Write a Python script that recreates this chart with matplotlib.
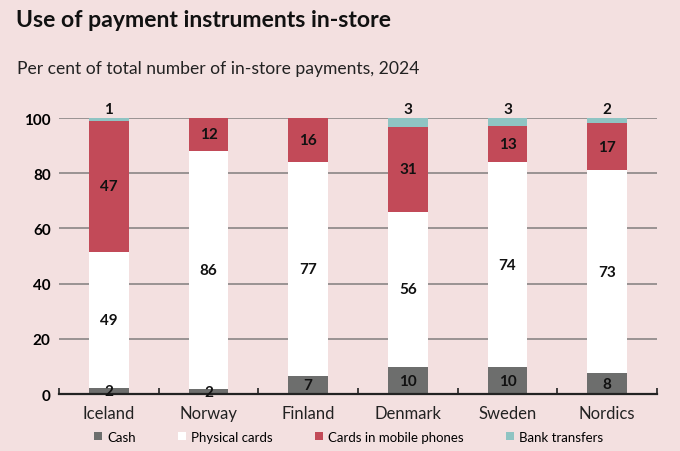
import matplotlib
matplotlib.use("Agg")
import matplotlib.pyplot as plt
import numpy as np

categories = ["Iceland", "Norway", "Finland", "Denmark", "Sweden", "Nordics"]
cash = [2.2, 1.8, 6.6, 9.7, 9.7, 7.6]
physical = [49.3, 86.4, 77.4, 56.4, 74.4, 73.4]
mobile = [47.4, 11.8, 16.0, 30.6, 13.1, 17.2]
bank = [1.1, 0.0, 0.0, 3.3, 2.8, 1.8]
series_names = ["Cash", "Physical cards", "Cards in mobile phones", "Bank transfers"]
yticks = [0, 20, 40, 60, 80, 100]

colors = ["#6d6e6d", "#ffffff", "#c24a58", "#8fc4c3"]
bg = "#f3e0e0"
FONT = "Lato"

fig = plt.figure(figsize=(6.8, 4.52), dpi=100, facecolor=bg)
ax = fig.add_axes([0.0868, 0.1261, 0.8794, 0.6106], facecolor=bg)

x = np.arange(len(categories))
series = [cash, physical, mobile, bank]
bottom = np.zeros(len(categories))
handles = []
for i, (vals, col, name) in enumerate(zip(series, colors, series_names)):
    vals = np.array(vals)
    h = ax.bar(x, vals, 0.4, bottom=bottom, color=col, label=name, zorder=3, linewidth=0)
    handles.append(h)
    for xi, v, b in zip(x, vals, bottom):
        if v <= 0:
            continue
        if i == 3:
            ax.text(xi, b + v + 0.8, f"{v:.0f}", ha="center", va="bottom", fontsize=11,
                    fontweight="bold", family=FONT, color="#111111", zorder=5, clip_on=False)
        else:
            ax.text(xi, b + v / 2, f"{v:.0f}", ha="center", va="center", fontsize=11,
                    fontweight="bold", family=FONT, color="#111111", zorder=5, clip_on=False)
    bottom = bottom + vals

ax.set_xlim(-0.5, len(categories) - 0.5)
ax.set_ylim(0, 100)
ax.set_yticks(yticks)
ax.set_yticklabels([str(t) for t in yticks], fontsize=11, fontweight="bold", family=FONT)
for t in yticks[1:]:
    ax.axhline(t, color="#8a8585", linewidth=1.2, zorder=1)

ax.set_xticks(x)
ax.set_xticklabels(categories, fontsize=12, family=FONT, color="#222222")
ax.tick_params(axis="x", length=0, pad=8)
ax.tick_params(axis="y", length=0, pad=6)
ax.set_xticks(np.arange(-0.5, len(categories)), minor=True)
ax.tick_params(axis="x", which="minor", direction="in", length=4, width=1.2, color="#222222")

for s in ["top", "right", "left"]:
    ax.spines[s].set_visible(False)
ax.spines["bottom"].set_color("#222222")
ax.spines["bottom"].set_linewidth(1.6)
ax.spines["bottom"].set_zorder(4)

fig.text(0.024, 0.955, "Use of payment instruments in-store", fontsize=16.6, fontweight="bold",
         family=FONT, color="#111111", va="center")
fig.text(0.025, 0.848, "Per cent of total number of in-store payments, 2024", fontsize=12.6,
         family=FONT, color="#222222", va="center")

leg = fig.legend(handles=handles, labels=series_names, loc="center", bbox_to_anchor=(0.5125, 0.032),
                 ncol=4, frameon=False, handlelength=0.6, handleheight=0.6, handletextpad=0.4,
                 columnspacing=3.2, prop={"family": FONT, "size": 9.5})

fig.savefig("out.png", dpi=100, facecolor=bg)
